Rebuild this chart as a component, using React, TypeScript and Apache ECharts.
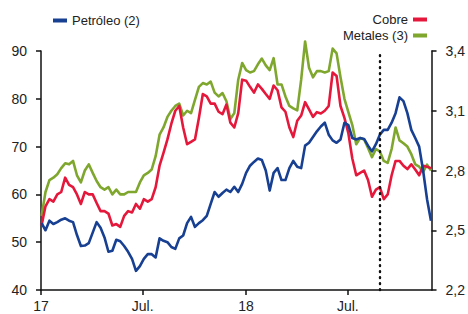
import React, { useEffect, useRef } from "react";
import * as echarts from "echarts";

// Weekly observations starting Monday 2 Jan 2017
const START = { y: 2017, m: 0, d: 2 };

// Petróleo (2) — left axis (USD/barril)
const petroleo = [
  54, 52.5, 54.5, 53.8, 54.2, 54.7, 55, 54.5, 54.2, 51.5,
  49.2, 49.3, 49.8, 52, 54.2, 53, 51, 48, 48.2, 50.5,
  50.2, 49.2, 48, 46.5, 44, 45, 46.5, 47.5, 47.5, 46.8,
  50.8, 50.3, 50, 49, 48.6, 50.8, 51.4, 54, 55.3, 53.2,
  54, 54.6, 55.5, 58, 60.5, 59.5, 60.3, 61, 60.5, 61.6,
  60.5, 62.2, 64.5, 66, 66.8, 67.5, 67.2, 65, 60.8, 64.5,
  65.5, 63, 63, 65.5, 67, 65.8, 65.5, 70.2, 70.8, 72,
  73.2, 74.2, 75, 72.5, 71.3, 70.8, 71.5, 75, 74.5, 71.8,
  71.5, 71.8, 71.6, 70.2, 69, 70.5, 72.5, 73.5, 73.5, 75,
  77, 80.3, 79.5, 77, 73.5, 71.8, 70, 65, 59, 54.5,
];

// Cobre — right axis (USD/libra)
const cobre = [
  2.524, 2.62, 2.656, 2.644, 2.68, 2.692, 2.764, 2.728, 2.716, 2.68,
  2.632, 2.692, 2.68, 2.68, 2.637, 2.596, 2.596, 2.584, 2.524, 2.531,
  2.517, 2.572, 2.596, 2.589, 2.632, 2.608, 2.656, 2.644, 2.656, 2.716,
  2.824, 2.889, 2.956, 3.035, 3.1, 3.124, 3.016, 2.932, 2.944, 2.956,
  3.064, 3.184, 3.172, 3.136, 3.136, 3.095, 3.083, 3.131, 3.04, 3.016,
  3.088, 3.256, 3.251, 3.22, 3.191, 3.232, 3.21, 3.184, 3.16, 3.227,
  3.203, 3.117, 3.095, 3.016, 2.968, 3.05, 3.076, 3.143, 3.107, 3.069,
  3.093, 3.086, 3.1, 3.124, 3.292, 3.275, 3.124, 3.064, 2.987, 2.86,
  2.776, 2.788, 2.8, 2.752, 2.668, 2.704, 2.716, 2.656, 2.68, 2.776,
  2.848, 2.848, 2.824, 2.807, 2.831, 2.805, 2.776, 2.824, 2.819, 2.812,
];

// Metales (3) — right axis
const metales = [
  2.572, 2.692, 2.752, 2.764, 2.781, 2.812, 2.836, 2.831, 2.848, 2.776,
  2.74, 2.8, 2.831, 2.788, 2.747, 2.716, 2.704, 2.716, 2.68, 2.704,
  2.68, 2.68, 2.692, 2.692, 2.692, 2.74, 2.776, 2.788, 2.805, 2.872,
  2.98, 3.016, 3.069, 3.1, 3.124, 3.136, 3.076, 3.1, 3.088, 3.155,
  3.22, 3.239, 3.232, 3.246, 3.191, 3.172, 3.189, 3.148, 3.059, 3.088,
  3.256, 3.34, 3.304, 3.292, 3.299, 3.333, 3.362, 3.328, 3.304, 3.364,
  3.232, 3.232, 3.172, 3.124, 3.112, 3.102, 3.256, 3.448, 3.316, 3.268,
  3.299, 3.299, 3.292, 3.299, 3.412, 3.388, 3.268, 3.16, 3.093, 3.028,
  2.932, 2.963, 2.956, 2.913, 2.867, 2.908, 2.896, 2.848, 2.838, 2.908,
  3.016, 2.951, 2.937, 2.92, 2.882, 2.831, 2.819, 2.793, 2.829, 2.8,
];

const leftTicks = [40, 50, 60, 70, 80, 90];
const rightTicks = [2.2, 2.5, 2.8, 3.1, 3.4];
const xTickDates = ["2017-01-01", "2017-07-01", "2018-01-01", "2018-07-01"];
const xTickLabels = ["17", "Jul.", "18", "Jul."];
const markerDate = "2018-08-27";

const COLORS = { petroleo: "#173f92", cobre: "#e5183c", metales: "#7fa72e" };
const FONT = "'Liberation Sans', Arial, sans-serif";

function toTs(s: string) {
  const [y, m, d] = s.split("-").map(Number);
  return new Date(y, m - 1, d).getTime();
}

export default function App() {
  const ref = useRef<HTMLDivElement>(null);
  useEffect(() => {
    if (!ref.current) return;
    const chart = echarts.init(ref.current, undefined, { renderer: "svg" });
    const dates = petroleo.map((_, i) => new Date(START.y, START.m, START.d + 7 * i).getTime());
    const xTickTs = xTickDates.map(toTs);
    const axisLine = { show: true, lineStyle: { color: "#111", width: 1.5 } };
    const axisTick = { show: true, length: 5, lineStyle: { color: "#111", width: 1.5 } };
    const lineSeries = (name: string, vals: number[], color: string, yAxisIndex: number, z: number) => ({
      name,
      type: "line",
      yAxisIndex,
      data: vals.map((v, i) => [dates[i], v]),
      showSymbol: false,
      symbol: "none",
      clip: false,
      z,
      lineStyle: { color, width: 2.6, join: "round" },
      itemStyle: { color },
    });
    chart.setOption({
      animation: false,
      grid: { left: 41, right: 36, top: 51, bottom: 24, containLabel: false },
      legend: [
        {
          data: ["Petróleo (2)"],
          left: 48,
          top: 9,
          icon: "rect",
          itemWidth: 14,
          itemHeight: 4,
          itemGap: 4,
          textStyle: { fontFamily: FONT, fontSize: 13, color: "#222" },
          selectedMode: false,
        },
        {
          data: ["Cobre", "Metales (3)"],
          right: 36,
          top: 8,
          orient: "vertical",
          align: "right",
          icon: "rect",
          itemWidth: 14,
          itemHeight: 4,
          itemGap: 3,
          textStyle: { fontFamily: FONT, fontSize: 13, color: "#222" },
          selectedMode: false,
        },
      ],
      xAxis: {
        type: "value",
        min: toTs("2017-01-01"),
        max: toTs("2018-11-27"),
        axisLine,
        axisTick: { ...axisTick, customValues: xTickTs },
        splitLine: { show: false },
        axisLabel: {
          customValues: xTickTs,
          fontFamily: FONT,
          fontSize: 14,
          color: "#222",
          margin: 9,
          formatter: (v: number) => {
            const k = xTickTs.indexOf(v);
            return k >= 0 ? xTickLabels[k] : "";
          },
        },
      },
      yAxis: [
        {
          type: "value",
          min: 40,
          max: 90,
          position: "left",
          axisLine,
          axisTick: { ...axisTick, customValues: leftTicks },
          splitLine: { show: false },
          axisLabel: { customValues: leftTicks, fontFamily: FONT, fontSize: 14, color: "#222", margin: 14 },
        },
        {
          type: "value",
          min: 2.2,
          max: 3.4,
          position: "right",
          axisLine,
          axisTick: { ...axisTick, customValues: rightTicks },
          splitLine: { show: false },
          axisLabel: {
            customValues: rightTicks,
            fontFamily: FONT,
            fontSize: 14,
            color: "#222",
            margin: 14,
            formatter: (v: number) => v.toFixed(1).replace(".", ","),
          },
        },
      ],
      series: [
        {
          ...lineSeries("Metales (3)", metales, COLORS.metales, 1, 2),
          markLine: {
            silent: true,
            symbol: "none",
            label: { show: false },
            lineStyle: { color: "#111", type: [0.8, 5.2], width: 2.4, cap: "round" },
            data: [{ xAxis: toTs(markerDate) }],
          },
        },
        lineSeries("Cobre", cobre, COLORS.cobre, 1, 3),
        lineSeries("Petróleo (2)", petroleo, COLORS.petroleo, 0, 4),
      ],
    });
    return () => chart.dispose();
  }, []);
  return <div ref={ref} style={{ width: 468, height: 314, position: "absolute", left: 0, top: 0 }} />;
}
